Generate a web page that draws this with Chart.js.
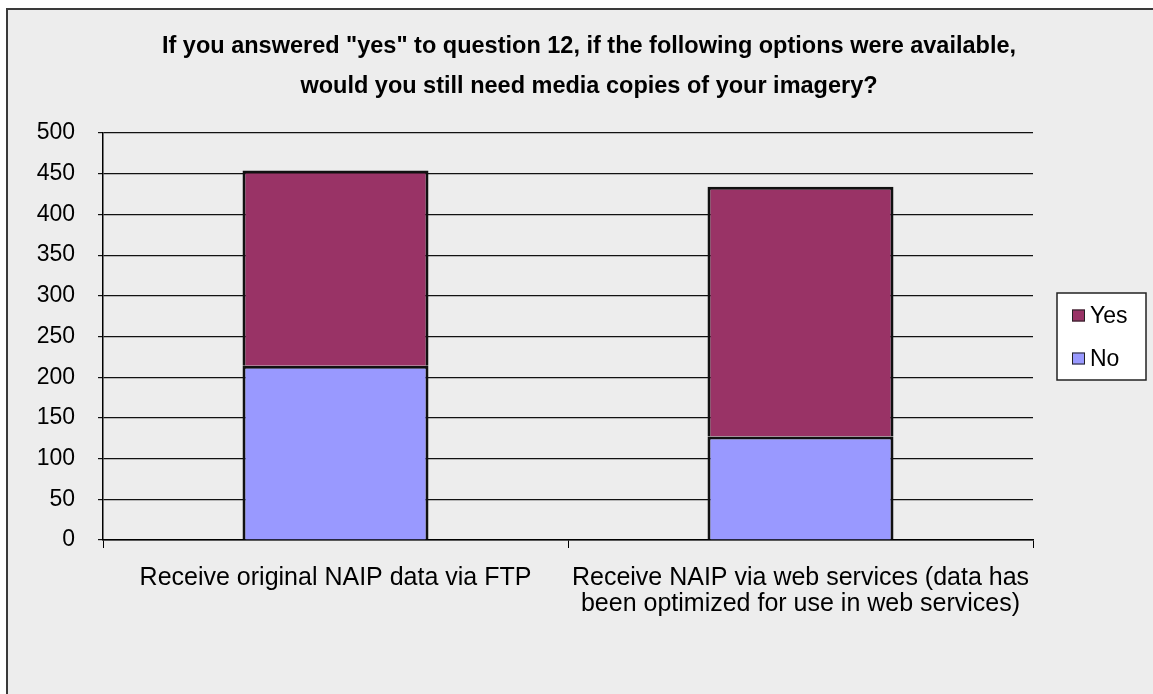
<!DOCTYPE html>
<html>
<head>
<meta charset="utf-8">
<script src="https://cdn.jsdelivr.net/npm/chart.js@4.4.1/dist/chart.umd.min.js"></script>
<style>
  html, body { margin: 0; padding: 0; background: #ffffff; width: 1153px; height: 694px; overflow: hidden; }
  #frame { position: absolute; left: 6px; top: 8px; width: 1160px; height: 700px;
           border-left: 2px solid #3a3a3a; border-top: 2px solid #3a3a3a; background: #ededed; }
  #c { position: absolute; left: 8px; top: 10px; }
</style>
</head>
<body>
<div id="frame"></div>
<canvas id="c" width="1145" height="684" style="width:1145px;height:684px"></canvas>
<script>
// ---- data ----
const titleLines = [
  'If you answered "yes" to question 12, if the following options were available,',
  'would you still need media copies of your imagery?'
];
const categories = [
  'Receive original NAIP data via FTP',
  ['Receive NAIP via web services (data has', 'been optimized for use in web services)']
];
const noValues = [214, 127];
const yesValues = [240, 307];
const yTickMin = 0;
const yTickMax = 500;
const yTickStep = 50;

// reserve room on the right for the legend (layout box, not full size)
const legendSpace = {
  position: 'right', weight: 0, fullSize: false, options: {},
  isHorizontal() { return false; },
  update(maxWidth, maxHeight) { this.width = 112; this.height = maxHeight; },
  draw() {}
};

const boxedLegend = {
  id: 'boxedLegend',
  beforeInit(chart) { Chart.layouts.addBox(chart, legendSpace); },
  afterDraw(chart) {
    const ctx = chart.ctx;
    const ca = chart.chartArea;
    const cy = (ca.top + ca.bottom) / 2;
    const left = ca.right + 24;
    const top = cy - 43.5;
    ctx.save();
    ctx.fillStyle = '#ffffff';
    ctx.fillRect(left, top, 89, 87);
    ctx.strokeStyle = '#222222';
    ctx.lineWidth = 1.5;
    ctx.strokeRect(left, top, 89, 87);
    const items = chart.data.datasets.slice().reverse();
    const offsets = [-21, 22];
    ctx.font = '23px "Liberation Sans", Arial, sans-serif';
    ctx.textBaseline = 'middle';
    ctx.textAlign = 'left';
    items.forEach((ds, i) => {
      const y = cy + offsets[i];
      ctx.fillStyle = ds.backgroundColor;
      ctx.fillRect(left + 15, y - 6, 13, 12);
      ctx.strokeStyle = '#222222';
      ctx.lineWidth = 1;
      ctx.strokeRect(left + 15.5, y - 5.5, 12, 11);
      ctx.fillStyle = '#000000';
      ctx.fillText(ds.label, left + 33, y + 1);
    });
    ctx.restore();
  }
};

new Chart(document.getElementById('c'), {
  type: 'bar',
  data: {
    labels: categories,
    datasets: [
      { label: 'No', data: noValues, backgroundColor: '#9999ff', borderColor: '#111111', borderWidth: 3,
        barPercentage: 0.4, categoryPercentage: 1.0 },
      { label: 'Yes', data: yesValues, backgroundColor: '#993366', borderColor: '#111111', borderWidth: 3,
        barPercentage: 0.4, categoryPercentage: 1.0 }
    ]
  },
  options: {
    responsive: false,
    animation: false,
    devicePixelRatio: 1,
    layout: { padding: { left: 25, right: 8, top: 0, bottom: 54 } },
    plugins: {
      legend: { display: false },
      tooltip: { enabled: false },
      title: {
        display: true,
        text: titleLines,
        color: '#000000',
        font: { family: '"Liberation Sans", Arial, sans-serif', size: 23.5, weight: 'bold', lineHeight: '40px' },
        padding: { top: 17, bottom: 26 }
      }
    },
    scales: {
      x: {
        stacked: true,
        afterFit(scale) { scale.height = 100; },
        grid: { drawOnChartArea: false, drawTicks: true, tickLength: 8, color: '#000000', lineWidth: 1 },
        border: { display: true, color: '#000000', width: 1.5 },
        ticks: { color: '#000000', padding: 17, maxRotation: 0, autoSkip: false,
                 font: { family: '"Liberation Sans", Arial, sans-serif', size: 25, lineHeight: 1.05 } }
      },
      y: {
        stacked: true,
        min: yTickMin,
        max: yTickMax,
        afterFit(scale) { scale.width = 70; },
        grid: { color: '#111111', lineWidth: 1.2, tickLength: 5 },
        border: { display: true, color: '#000000', width: 1.5 },
        ticks: { stepSize: yTickStep, color: '#000000', padding: 23,
                 font: { family: '"Liberation Sans", Arial, sans-serif', size: 23 } }
      }
    }
  },
  plugins: [boxedLegend]
});
</script>
</body>
</html>
